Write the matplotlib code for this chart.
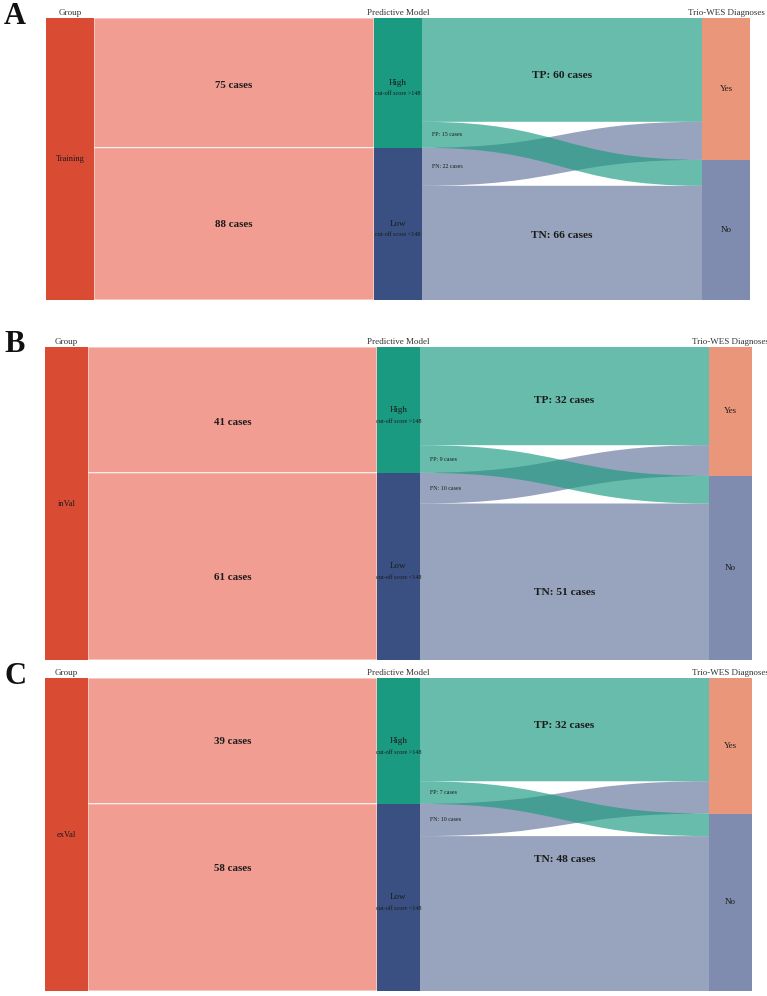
import matplotlib
matplotlib.use("Agg")
import matplotlib.pyplot as plt
from matplotlib.path import Path
from matplotlib.patches import PathPatch, Rectangle

plt.rcParams['font.family'] = ['Liberation Serif', 'DejaVu Serif']

# Daten (Fälle je Kohorte)
panels = ["A", "B", "C"]
groups = ["Training", "inVal", "exVal"]
high_n = [75, 41, 39]
low_n = [88, 61, 58]
tp = [60, 32, 32]
fp = [15, 9, 7]
fn = [22, 10, 10]
tn = [66, 51, 48]

# Layout in Pixel (links, oben, rechts, unten) und Knotenbreite
W, H = 767, 996
rects = [(46, 18, 750, 300), (45, 347, 752, 660), (45, 678, 752, 991)]
node_px = [48, 43, 43]
# Verschiebung der fetten Beschriftungen in Pixel (high, low, TP, TN)
label_dy = [(3, 1, 6, -7), (13, 11, 4, 11), (1, -29, -4, -54)]

# Farben
c_group = "#D94B33"
c_left = "#F29D92"
c_high = "#1A9A80"
c_low = "#3B5082"
c_yes = "#EA967A"
c_no = "#7F8BAF"
txt = "#1a1a1a"


def band(ax, x0, x1, a0, b0, a1, b1, color, alpha=1.0, ec="none", lw=0):
    xm = (x0 + x1) / 2
    verts = [(x0, a0), (xm, a0), (xm, a1), (x1, a1),
             (x1, b1), (xm, b1), (xm, b0), (x0, b0), (x0, a0)]
    codes = [Path.MOVETO, Path.CURVE4, Path.CURVE4, Path.CURVE4,
             Path.LINETO, Path.CURVE4, Path.CURVE4, Path.CURVE4, Path.CLOSEPOLY]
    ax.add_patch(PathPatch(Path(verts, codes), facecolor=color, alpha=alpha,
                           edgecolor=ec, lw=lw, zorder=1))


fig = plt.figure(figsize=(W / 100, H / 100), dpi=100)

for i in range(3):
    l, t, r, b = rects[i]
    ax = fig.add_axes([l / W, 1 - b / H, (r - l) / W, (b - t) / H])
    total = high_n[i] + low_n[i]
    ax.set_xlim(0, 1)
    ax.set_ylim(total, 0)
    ax.axis("off")

    w = node_px[i] / (r - l)
    xs = [0, (1 - w) / 2, 1 - w]
    px = 1 / (r - l)  # ein Pixel in x
    py = total / (b - t)  # ein Pixel in y
    yes = tp[i] + fn[i]
    hi = high_n[i]
    dy = [d * py for d in label_dy[i]]

    # Knoten
    ax.add_patch(Rectangle((xs[0], 0), w, total, color=c_group, zorder=3, lw=0))
    ax.add_patch(Rectangle((xs[1], 0), w, hi, color=c_high, zorder=3, lw=0))
    ax.add_patch(Rectangle((xs[1], hi), w, low_n[i], color=c_low, zorder=3, lw=0))
    ax.add_patch(Rectangle((xs[2], 0), w, yes, color=c_yes, zorder=3, lw=0))
    ax.add_patch(Rectangle((xs[2], yes), w, total - yes, color=c_no, zorder=3, lw=0))

    # Gruppe -> Modell
    band(ax, xs[0] + w, xs[1], 0, hi, 0, hi, c_left, ec="white", lw=0.6)
    band(ax, xs[0] + w, xs[1], hi, total, hi, total, c_left, ec="white", lw=0.6)

    # Modell -> Trio-WES
    x0, x1 = xs[1] + w, xs[2]
    band(ax, x0, x1, 0, tp[i], 0, tp[i], c_high, alpha=0.66)
    band(ax, x0, x1, hi + fn[i], total, yes + fp[i], total, c_low, alpha=0.52)
    band(ax, x0, x1, hi, hi + fn[i], tp[i], yes, c_low, alpha=0.52)
    band(ax, x0, x1, tp[i], hi, yes, yes + fp[i], c_high, alpha=0.66)

    # Kopfzeilen
    heads = ["Group", "Predictive Model", "Trio-WES Diagnoses"]
    for k in range(3):
        ax.annotate(heads[k], (xs[k] + w / 2, 0), xytext=(0, 0.6), textcoords="offset points",
                    ha="center", va="bottom", fontsize=6.5, color="#333333",
                    annotation_clip=False)

    # Knotenbeschriftung
    ax.text(xs[0] + w / 2, total / 2, groups[i], ha="center", va="center",
            fontsize=6, color=txt, zorder=4)
    for lab, sub, y0, y1 in [("High", "cut-off score >148", 0, hi),
                             ("Low", "cut-off score <148", hi, total)]:
        ym = (y0 + y1) / 2
        ax.text(xs[1] + w / 2, ym, lab, ha="center", va="center",
                fontsize=6.5, color=txt, zorder=4)
        ax.annotate(sub, (xs[1] + w / 2, ym), xytext=(0, -8), textcoords="offset points",
                    ha="center", va="center", fontsize=4.4, color=txt, zorder=4)
    ax.text(xs[2] + w / 2, yes / 2, "Yes", ha="center", va="center",
            fontsize=6.5, color=txt, zorder=4)
    ax.text(xs[2] + w / 2, (yes + total) / 2, "No", ha="center", va="center",
            fontsize=6.5, color=txt, zorder=4)

    # Flussbeschriftung
    xl = (xs[0] + w + xs[1]) / 2
    ax.text(xl, hi / 2 + dy[0], f"{hi} cases", ha="center", va="center",
            fontsize=7.8, fontweight="bold", color=txt, zorder=4)
    ax.text(xl, (hi + total) / 2 + dy[1], f"{low_n[i]} cases", ha="center", va="center",
            fontsize=7.8, fontweight="bold", color=txt, zorder=4)
    xr = (x0 + x1) / 2
    ax.text(xr, tp[i] / 2 + dy[2], f"TP: {tp[i]} cases", ha="center", va="center",
            fontsize=8.2, fontweight="bold", color=txt, zorder=4)
    ax.text(xr, (hi + fn[i] + total) / 2 + dy[3], f"TN: {tn[i]} cases", ha="center",
            va="center", fontsize=8.2, fontweight="bold", color=txt, zorder=4)
    ax.text(x0 + 10 * px, (tp[i] + hi) / 2, f"FP: {fp[i]} cases", ha="left", va="center",
            fontsize=4.3, color=txt, zorder=4)
    ax.text(x0 + 10 * px, hi + fn[i] / 2, f"FN: {fn[i]} cases", ha="left", va="center",
            fontsize=4.3, color=txt, zorder=4)

    # Panelbuchstabe
    fig.text(4 / W, 1 - (t - 2) / H, panels[i], ha="left", va="center",
             fontsize=22, fontweight="bold", color="#111111")

fig.savefig("out.png", dpi=100)
